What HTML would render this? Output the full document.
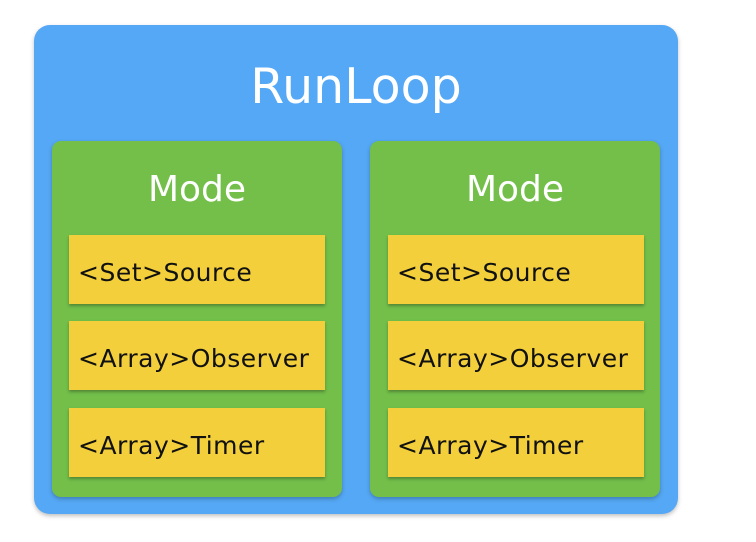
<!DOCTYPE html>
<html><head><style>
body{margin:0;width:756px;height:542px;background:#fff;position:relative;overflow:hidden;font-family:"DejaVu Sans","Liberation Sans",sans-serif;}
.o{position:absolute;left:34px;top:25px;width:644px;height:489px;background:#55a8f5;border-radius:16px;box-shadow:0 2px 4px rgba(0,0,0,.25);}
.t{position:absolute;left:34px;top:55px;width:644px;text-align:center;color:#fff;font-size:49px;line-height:64px;}
.g{position:absolute;top:141px;width:290px;height:356px;background:#73bf4a;border-radius:9px;box-shadow:0 2px 4px rgba(0,0,0,.25);}
.m{position:absolute;top:166px;width:290px;text-align:center;color:#fff;font-size:36px;line-height:48px;}
.y{position:absolute;width:256px;height:69px;background:#f3d03b;box-shadow:0 2px 3px rgba(0,0,0,.3);font-size:25px;letter-spacing:0.5px;line-height:76px;color:#111;padding-left:9px;box-sizing:border-box;white-space:nowrap;}
</style></head><body>
<div class="o"></div>
<div class="t">RunLoop</div>
<div class="g" style="left:52px"></div>
<div class="g" style="left:370px"></div>
<div class="m" style="left:52px">Mode</div>
<div class="m" style="left:370px">Mode</div>
<div class="y" style="left:69px;top:235px">&lt;Set&gt;Source</div>
<div class="y" style="left:69px;top:321px">&lt;Array&gt;Observer</div>
<div class="y" style="left:69px;top:408px">&lt;Array&gt;Timer</div>
<div class="y" style="left:388px;top:235px">&lt;Set&gt;Source</div>
<div class="y" style="left:388px;top:321px">&lt;Array&gt;Observer</div>
<div class="y" style="left:388px;top:408px">&lt;Array&gt;Timer</div>
</body></html>
